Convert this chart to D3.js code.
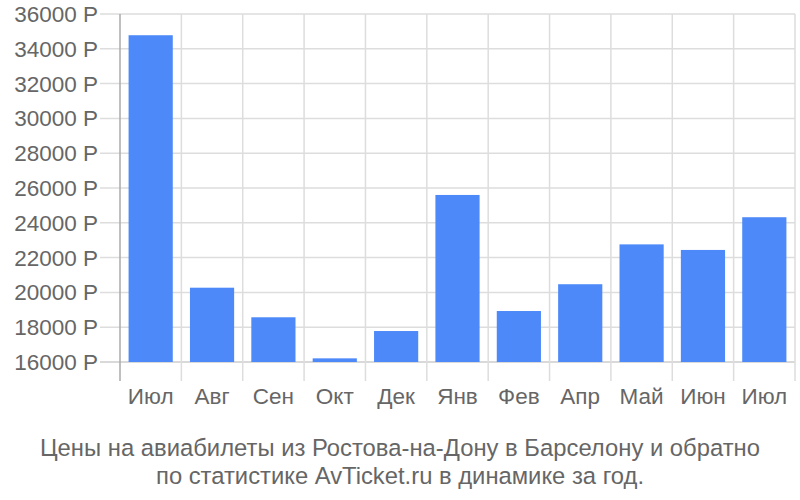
<!DOCTYPE html>
<html><head><meta charset="utf-8">
<script src="https://cdn.jsdelivr.net/npm/d3@7"></script>
<style>body{margin:0;background:#fff}svg{display:block}text{font-family:"Liberation Sans",Arial,sans-serif}</style>
</head><body><svg id="c" width="800" height="500"></svg>
<script>
const categories = ["Июл","Авг","Сен","Окт","Дек","Янв","Фев","Апр","Май","Июн","Июл"];
const prices = [34780,20270,18570,16210,17780,25600,18930,20470,22760,22440,24320];
const yTicks = [16000,18000,20000,22000,24000,26000,28000,30000,32000,34000,36000];
const caption = ["Цены на авиабилеты из Ростова-на-Дону в Барселону и обратно","по статистике AvTicket.ru в динамике за год."];
const captionWidths = [720, 488];

const svg = d3.select("#c");
const m = {l:120, r:795, t:14, b:362};
const x = d3.scaleBand().domain(d3.range(categories.length)).range([m.l, m.r]).paddingInner(0.28).paddingOuter(0.14);
const y = d3.scaleLinear().domain([16000,36000]).range([m.b, m.t]);

// horizontal grid
svg.append("g").selectAll("line").data(yTicks).join("line")
  .attr("x1", 100).attr("x2", m.r).attr("y1", d=>y(d)).attr("y2", d=>y(d))
  .attr("stroke", d=> d===16000 ? "#ccc" : "#ddd").attr("stroke-width", 1.5);
// vertical grid at band edges
const edges = d3.range(categories.length+1).map(i => m.l + i*(m.r-m.l)/categories.length);
svg.append("g").selectAll("line").data(edges).join("line")
  .attr("x1", d=>d).attr("x2", d=>d).attr("y1", m.t).attr("y2", 381)
  .attr("stroke", (d,i)=> i===0 ? "#aaa" : "#ddd").attr("stroke-width", 1.5);

// bars
svg.append("g").selectAll("rect").data(prices).join("rect")
  .attr("x", (d,i)=>x(i)).attr("width", x.bandwidth())
  .attr("y", d=>y(d)).attr("height", d=>y(16000)-y(d))
  .attr("fill", "#4d89f9");

// y labels
svg.append("g").selectAll("text").data(yTicks).join("text")
  .attr("x", 98).attr("y", d=>y(d)+8).attr("text-anchor","end")
  .attr("font-size", 22.5).attr("fill","#666").text(d=>d+" Р");

// x labels
svg.append("g").selectAll("text").data(categories).join("text")
  .attr("x", (d,i)=>x(i)+x.bandwidth()/2).attr("y", 404).attr("text-anchor","middle")
  .attr("font-size", 22.5).attr("fill","#666").text(d=>d);

// caption
svg.append("g").selectAll("text").data(caption).join("text")
  .attr("x", 400).attr("y", (d,i)=>456+i*28).attr("text-anchor","middle")
  .attr("font-size", 24.5).attr("fill","#666")
  .attr("textLength", (d,i)=>captionWidths[i]).attr("lengthAdjust","spacingAndGlyphs")
  .text(d=>d);
</script></body></html>
